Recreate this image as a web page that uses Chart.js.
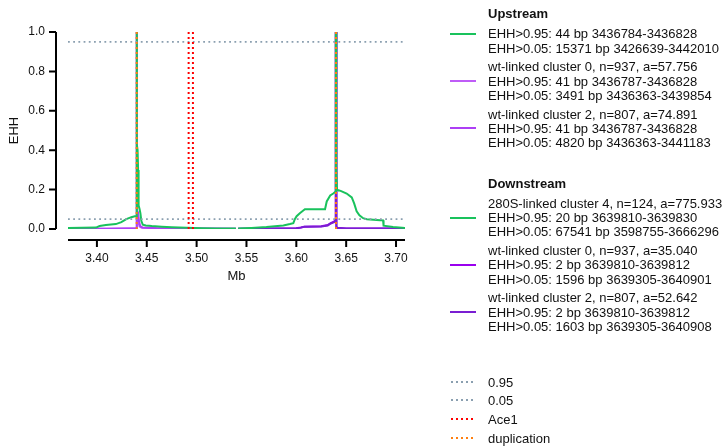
<!DOCTYPE html>
<html>
<head>
<meta charset="utf-8">
<script src="https://cdn.jsdelivr.net/npm/chart.js@4.4.1/dist/chart.umd.min.js"></script>
<style>
  html, body { margin: 0; padding: 0; background: #fff; }
  #wrap { position: relative; width: 728px; height: 447px; }
  #legend { position: absolute; left: 0; top: 0; width: 728px; height: 447px; pointer-events: none;
            font-family: 'Liberation Sans', Arial, sans-serif; font-size: 13px; color: #111; }
  #legend .txt { position: absolute; left: 488px; white-space: nowrap; line-height: 15px; transform: translateY(-50%); }
  #legend .title { font-weight: bold; }
  #legend .sw { position: absolute; left: 450px; width: 26px; height: 2px; transform: translateY(-50%); }
</style>
</head>
<body>
<div id="wrap">
  <canvas id="ehhChart" width="728" height="447"></canvas>
  <div id="legend"></div>
</div>
<script>
// x positions in Mb, EHH values
const upGreenPos = [3.371, 3.385, 3.399, 3.4027, 3.409, 3.419, 3.4245, 3.4295, 3.4345, 3.4379, 3.4396, 3.4397, 3.4401, 3.4402, 3.4408, 3.4413, 3.4418, 3.4428, 3.4436, 3.4446, 3.4460, 3.4490, 3.455, 3.465, 3.475, 3.490, 3.505, 3.520, 3.5394];
const upGreenEhh = [0.005, 0.006, 0.007, 0.015, 0.020, 0.025, 0.035, 0.050, 0.060, 0.065, 0.065, 1.0, 1.0, 0.43, 0.40, 0.30, 0.12, 0.10, 0.08, 0.04, 0.022, 0.018, 0.015, 0.012, 0.009, 0.006, 0.004, 0.003, 0.002];

const upC0Pos = [3.371, 3.410, 3.430, 3.4396, 3.4397, 3.4401, 3.4402, 3.4410, 3.4418, 3.4428, 3.4450, 3.460, 3.500, 3.5394];
const upC0Ehh = [0.001, 0.001, 0.002, 0.003, 1.0, 1.0, 0.085, 0.075, 0.030, 0.012, 0.006, 0.004, 0.002, 0.001];

const upC2Pos = [3.371, 3.410, 3.430, 3.4396, 3.4397, 3.4401, 3.4402, 3.4412, 3.4422, 3.4434, 3.4460, 3.460, 3.500, 3.5394];
const upC2Ehh = [0.001, 0.001, 0.002, 0.003, 1.0, 1.0, 0.095, 0.085, 0.040, 0.015, 0.007, 0.004, 0.002, 0.001];

const downGreenPos = [3.5417, 3.555, 3.570, 3.587, 3.5936, 3.597, 3.5985, 3.6003, 3.6035, 3.6086, 3.620, 3.6288, 3.6305, 3.634, 3.637, 3.6395, 3.6396, 3.6400, 3.6401, 3.6408, 3.6415, 3.6450, 3.6505, 3.6556, 3.658, 3.6605, 3.6633, 3.667, 3.6707, 3.684, 3.687, 3.6875, 3.697, 3.709];
const downGreenEhh = [0.002, 0.005, 0.010, 0.018, 0.025, 0.030, 0.050, 0.065, 0.080, 0.100, 0.100, 0.100, 0.140, 0.170, 0.180, 0.190, 1.0, 1.0, 0.30, 0.20, 0.198, 0.192, 0.180, 0.160, 0.130, 0.090, 0.070, 0.055, 0.050, 0.045, 0.044, 0.017, 0.010, 0.005];

const downC0Pos = [3.5417, 3.580, 3.600, 3.6045, 3.608, 3.625, 3.6315, 3.6345, 3.638, 3.6395, 3.6396, 3.6400, 3.6402, 3.6412, 3.650, 3.709];
const downC0Ehh = [0.001, 0.002, 0.004, 0.008, 0.012, 0.014, 0.020, 0.030, 0.038, 0.045, 1.0, 1.0, 0.010, 0.005, 0.003, 0.002];

const downC2Pos = [3.5417, 3.580, 3.600, 3.6045, 3.608, 3.625, 3.6315, 3.6345, 3.638, 3.6395, 3.6396, 3.6400, 3.6402, 3.6412, 3.650, 3.709];
const downC2Ehh = [0.001, 0.002, 0.004, 0.007, 0.011, 0.013, 0.018, 0.028, 0.035, 0.042, 1.0, 1.0, 0.012, 0.006, 0.003, 0.002];

const thresholds = [0.95, 0.05];
const ace1Pos = [3.4920, 3.4963];
const duplicationPos = [3.4399, 3.6398];
const xRange = [3.371, 3.709];

const xTicks = [3.40, 3.45, 3.50, 3.55, 3.60, 3.65, 3.70];
const yTicks = [0.0, 0.2, 0.4, 0.6, 0.8, 1.0];

const upstreamLabels = [
  ['EHH>0.95: 44 bp 3436784-3436828', 'EHH>0.05: 15371 bp 3426639-3442010'],
  ['wt-linked cluster 0, n=937, a=57.756', 'EHH>0.95: 41 bp 3436787-3436828', 'EHH>0.05: 3491 bp 3436363-3439854'],
  ['wt-linked cluster 2, n=807, a=74.891', 'EHH>0.95: 41 bp 3436787-3436828', 'EHH>0.05: 4820 bp 3436363-3441183']
];
const downstreamLabels = [
  ['280S-linked cluster 4, n=124, a=775.933', 'EHH>0.95: 20 bp 3639810-3639830', 'EHH>0.05: 67541 bp 3598755-3666296'],
  ['wt-linked cluster 0, n=937, a=35.040', 'EHH>0.95: 2 bp 3639810-3639812', 'EHH>0.05: 1596 bp 3639305-3640901'],
  ['wt-linked cluster 2, n=807, a=52.642', 'EHH>0.95: 2 bp 3639810-3639812', 'EHH>0.05: 1603 bp 3639305-3640908']
];
const refLabels = ['0.95', '0.05', 'Ace1', 'duplication'];

const GREEN = '#19c25c', UP_C0 = '#bf5cf7', UP_C2 = '#ad3ff5', DN_C0 = '#9a00ee', DN_C2 = '#7a1ed2';
const GREY = '#8a9fb0', RED = '#ff0000', ORANGE = '#ff7f0e';

function pts(xs, ys) { return xs.map((x, i) => ({x: x, y: ys[i]})); }
function curve(xs, ys, color, order) {
  return { data: pts(xs, ys), borderColor: color, borderWidth: 2, pointRadius: 0, fill: false, tension: 0, order: order };
}
function dotted(data, color, order, width, dash) {
  return { data: data, borderColor: color, borderWidth: width, borderDash: dash, pointRadius: 0, fill: false, order: order, borderCapStyle: 'butt' };
}

// lower order is drawn on top
const datasets = [
  curve(upGreenPos, upGreenEhh, GREEN, 7),
  curve(downGreenPos, downGreenEhh, GREEN, 7),
  curve(upC0Pos, upC0Ehh, UP_C0, 9),
  curve(upC2Pos, upC2Ehh, UP_C2, 8),
  curve(downC0Pos, downC0Ehh, DN_C0, 9),
  curve(downC2Pos, downC2Ehh, DN_C2, 8)
];
thresholds.forEach(t => datasets.push(dotted([{x: xRange[0], y: t}, {x: xRange[1], y: t}], GREY, 3, 1.8, [1.8, 3.4])));
ace1Pos.forEach(p => datasets.push(dotted([{x: p, y: 0}, {x: p, y: 1}], RED, 2, 2, [2, 3])));
duplicationPos.forEach(p => datasets.push(dotted([{x: p, y: 0}, {x: p, y: 1}], ORANGE, 1, 2, [2, 3])));

// matplotlib style detached spines
const spines = {
  id: 'spines',
  afterDraw(chart) {
    const {ctx, chartArea, scales: {x, y}} = chart;
    const sx = chartArea.left - 12, sy = chartArea.bottom + 11;
    ctx.save();
    ctx.strokeStyle = '#000';
    ctx.lineWidth = 2;
    ctx.beginPath();
    ctx.moveTo(sx, y.getPixelForValue(yTicks[0]));
    ctx.lineTo(sx, y.getPixelForValue(yTicks[yTicks.length - 1]));
    y.ticks.forEach(t => { const p = y.getPixelForValue(t.value); ctx.moveTo(sx - 7, p); ctx.lineTo(sx, p); });
    ctx.moveTo(chartArea.left, sy);
    ctx.lineTo(chartArea.right, sy);
    x.ticks.forEach(t => { const p = x.getPixelForValue(t.value); ctx.moveTo(p, sy); ctx.lineTo(p, sy + 7); });
    ctx.stroke();
    ctx.restore();
  }
};

const tickFont = {family: "'Liberation Sans', Arial, sans-serif", size: 12};
const titleFont = {family: "'Liberation Sans', Arial, sans-serif", size: 13};

new Chart(document.getElementById('ehhChart'), {
  type: 'line',
  data: { datasets: datasets },
  options: {
    responsive: false,
    animation: false,
    events: [],
    layout: { padding: {top: 32, right: 323, bottom: 163, left: 0} },
    plugins: { legend: {display: false}, tooltip: {enabled: false} },
    scales: {
      x: {
        type: 'linear', min: xRange[0], max: xRange[1],
        grid: {display: false, drawTicks: false}, border: {display: false},
        afterFit: s => { s.height = 55; },
        afterBuildTicks: s => { s.ticks = xTicks.map(v => ({value: v})); },
        ticks: { font: tickFont, color: '#111', padding: 22, maxRotation: 0, callback: v => v.toFixed(2) },
        title: { display: true, text: 'Mb', font: titleFont, color: '#111', padding: {top: 0, bottom: 0} }
      },
      y: {
        min: 0, max: 1,
        grid: {display: false, drawTicks: false}, border: {display: false},
        afterFit: s => { s.width = 68; },
        afterBuildTicks: s => { s.ticks = yTicks.map(v => ({value: v})); },
        ticks: { font: tickFont, color: '#111', padding: 23, callback: v => v.toFixed(1) },
        title: { display: true, text: 'EHH', font: titleFont, color: '#111', padding: {top: 7, bottom: 0} }
      }
    }
  },
  plugins: [spines]
});

// legend built as html text
const legend = document.getElementById('legend');
function addText(txt, y, cls) {
  const d = document.createElement('div');
  d.className = 'txt' + (cls ? ' ' + cls : '');
  d.style.top = y + 'px';
  d.textContent = txt;
  legend.appendChild(d);
}
function addSwatch(y, color, isDotted) {
  const d = document.createElement('div');
  d.className = 'sw';
  d.style.top = y + 'px';
  if (isDotted) {
    d.style.left = '451px';
    d.style.width = '24px';
    d.style.background = 'repeating-linear-gradient(to right, ' + color + ' 0 2px, transparent 2px 5px)';
  } else {
    d.style.background = color;
  }
  legend.appendChild(d);
}
function addGroup(title, labels, colors, startY) {
  addText(title, startY, 'title');
  let y = startY + 20;
  labels.forEach((lines, i) => {
    const swLine = lines.length === 3 ? 1 : 0;
    lines.forEach((ln, j) => {
      addText(ln, y + j * 14.3);
      if (j === swLine) addSwatch(y + j * 14.3 + 0.5, colors[i], false);
    });
    y += (lines.length - 1) * 14.3 + 18.7;
  });
}
addGroup('Upstream', upstreamLabels, [GREEN, UP_C0, UP_C2], 13.3);
addGroup('Downstream', downstreamLabels, [GREEN, DN_C0, DN_C2], 182.7);
const refColors = [GREY, GREY, RED, ORANGE];
refLabels.forEach((t, i) => {
  const y = 381.5 + i * 18.7;
  addText(t, y);
  addSwatch(y, refColors[i], true);
});
</script>
</body>
</html>
